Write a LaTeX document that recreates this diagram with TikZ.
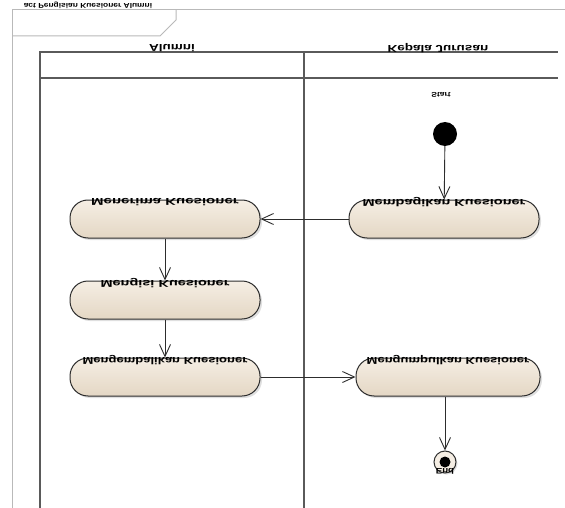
\documentclass[tikz,border=0pt]{standalone}
\usepackage{fontspec}
\setmainfont{Liberation Sans}
\usetikzlibrary{arrows.meta,shadows}

\definecolor{actTop}{RGB}{245,238,228}
\definecolor{actBot}{RGB}{228,215,196}
\definecolor{laneLine}{RGB}{90,90,90}
\definecolor{frameLine}{RGB}{185,185,185}
\definecolor{edgeCol}{RGB}{45,45,45}

% upside-down captions, as printed in the exported diagram
\newcommand{\fliptxt}[2][1.35]{\scalebox{#1}[-1]{#2}}

\tikzset{
  activity/.style={draw=edgeCol, line width=1pt, rectangle, rounded corners=18pt,
    minimum width=190pt, minimum height=38pt, inner sep=0pt,
    top color=actTop, bottom color=actBot,
    drop shadow={opacity=0.25, shadow xshift=2pt, shadow yshift=-2pt}},
  actlabel/.style={font=\fontsize{10}{11}\selectfont\bfseries, inner sep=0pt, text=black},
  flow/.style={draw=edgeCol, line width=0.9pt, -{Straight Barb[length=12pt,width=11pt,line width=0.9pt]}},
  lane/.style={draw=laneLine, line width=1.5pt},
  framestyle/.style={draw=frameLine, line width=1pt},
}

\begin{document}
\begin{tikzpicture}[x=1pt,y=-1pt]
  \useasboundingbox (0,0) rectangle (565,508);
  \fill[white] (0,0) rectangle (565,508);

  % diagram frame with its name tab
  \draw[framestyle] (12,508) -- (12,10) -- (565,10);
  \draw[framestyle] (12,36) -- (160,36) -- (176,20) -- (176,10);
  \begin{scope}
    \clip (12,0) rectangle (176,10);
    \node[font=\fontsize{7}{8}\selectfont\bfseries, inner sep=0pt] (tabname) at (88,5)
      {\fliptxt[1.2]{act Pengisian Kuesioner Alumni}};
  \end{scope}

  % swimlanes
  \draw[lane, line width=1.1pt] (40,508) -- (40,52) -- (558,52);
  \draw[lane] (40,78) -- (558,78);
  \draw[lane] (304,52) -- (304,508);
  \node[actlabel] (laneA) at (172,48) {\fliptxt{Alumni}};
  \node[actlabel] (laneB) at (438,48) {\fliptxt{Kepala Jurusan}};

  % initial node
  \node[font=\fontsize{7}{8}\selectfont\bfseries, inner sep=0pt] (startlbl) at (441,95) {\fliptxt[1.2]{Start}};
  \node[circle, fill=black, minimum size=24pt, inner sep=0pt] (start) at (445,134) {};

  % activities
  \node[activity] (bagi)   at (444,219) {};
  \node[activity] (terima) at (165,219) {};
  \node[activity] (isi)    at (165,300) {};
  \node[activity] (kembali) at (165,377) {};
  \node[activity, minimum width=184pt] (kumpul) at (448,377) {};

  \node[actlabel] (bagiT)    at ([yshift=-3pt]bagi.north)    {\fliptxt[1.45]{Membagikan Kuesioner}};
  \node[actlabel] (terimaT)  at ([yshift=-3pt]terima.north)  {\fliptxt[1.5]{Menerima Kuesioner}};
  \node[actlabel] (isiT)     at ([yshift=-3pt]isi.north)     {\fliptxt[1.45]{Mengisi Kuesioner}};
  \node[actlabel] (kembaliT) at ([yshift=-3pt]kembali.north) {\fliptxt[1.3]{Mengembalikan Kuesioner}};
  \node[actlabel] (kumpulT)  at ([yshift=-3pt]kumpul.north)  {\fliptxt[1.3]{Mengumpulkan Kuesioner}};

  % final node
  \node[circle, draw=edgeCol, line width=1pt, fill=actTop, minimum size=22pt, inner sep=0pt,
        drop shadow={opacity=0.25, shadow xshift=1.5pt, shadow yshift=-1.5pt}] (end) at (445,462) {};
  \node[circle, fill=black, minimum size=11pt, inner sep=0pt] (endDot) at (end.center) {};
  \node[font=\fontsize{8}{9}\selectfont\bfseries, inner sep=0pt] (endlbl) at (445,471) {\fliptxt[1.2]{End}};

  % control flows
  \draw[flow] (start) -- (bagi);
  \draw[flow] (bagi) -- (terima);
  \draw[flow] (terima) -- (isi);
  \draw[flow] (isi) -- (kembali);
  \draw[flow] (kembali) -- (kumpul);
  \draw[flow] (kumpul.south -| end) -- (end);
\end{tikzpicture}
\end{document}
